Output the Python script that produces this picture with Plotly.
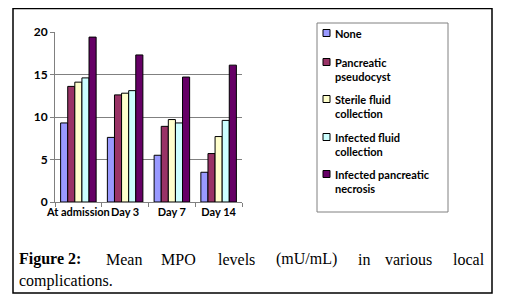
import plotly.graph_objects as go

categories = ["At admission", "Day 3", "Day 7", "Day 14"]
series_names = ["None", "Pancreatic<br>pseudocyst", "Sterile fluid<br>collection",
                "Infected fluid<br>collection", "Infected pancreatic<br>necrosis"]
series_colors = ["#9999FF", "#993366", "#FFFFCC", "#CCFFFF", "#660066"]
none_vals = [9.3, 7.6, 5.5, 3.5]
pseudocyst_vals = [13.6, 12.6, 8.9, 5.7]
sterile_vals = [14.1, 12.8, 9.7, 7.7]
infected_fluid_vals = [14.6, 13.1, 9.3, 9.6]
necrosis_vals = [19.4, 17.3, 14.7, 16.1]
all_vals = [none_vals, pseudocyst_vals, sterile_vals, infected_fluid_vals, necrosis_vals]
y_ticks = [0, 5, 10, 15, 20]

# page body has an 8px margin; figure sits at (8, 8)
OFF = 8
W, H = 506 - OFF, 307 - OFF
L, R, T, B = 55 - OFF, 242 - OFF, 32 - OFF, 202 - OFF
def px(x):  # x in page pixels
    return (x - OFF - L) / (R - L)
def py(y):  # y in page pixels
    return (B - (y - OFF)) / (B - T)

fig = go.Figure()
for name, col, vals in zip(series_names, series_colors, all_vals):
    fig.add_trace(go.Bar(x=categories, y=vals, name=name.replace("<br>", " "),
                         marker=dict(color=col, line=dict(color="black", width=1)),
                         showlegend=False))

FONT = "Lato"
shapes = []
annotations = []

# outer frame
shapes.append(dict(type="rect", xref="paper", yref="paper",
                   x0=px(13), x1=px(492), y0=py(293), y1=py(8.5),
                   line=dict(color="black", width=1.5), layer="below"))
# legend box
shapes.append(dict(type="rect", xref="paper", yref="paper",
                   x0=px(317), x1=px(448), y0=py(212), y1=py(23),
                   line=dict(color="#808080", width=1)))
leg_y = [33, 62, 99, 137, 174]
for name, col, yy in zip(series_names, series_colors, leg_y):
    shapes.append(dict(type="rect", xref="paper", yref="paper",
                       x0=px(323), x1=px(330), y0=py(yy + 3.5), y1=py(yy - 3.5),
                       fillcolor=col, line=dict(color="black", width=1)))
    annotations.append(dict(text=name, xref="paper", yref="paper",
                            x=px(333), y=py(yy - 8), xanchor="left", yanchor="top",
                            align="left", showarrow=False,
                            font=dict(family=FONT, size=11, color="black", weight="bold")))

# caption (justified words)
cap_font = dict(family="Liberation Serif", size=16, color="black")
line1 = [("<b>Figure 2:</b>", 17, "left"), ("Mean", 123.5, "center"), ("MPO", 178, "center"),
         ("levels", 236.5, "center"), ("(mU/mL)", 306.5, "center"), ("in", 363.5, "center"),
         ("various", 408.5, "center"), ("local", 487, "right")]
for txt, xx, anc in line1:
    annotations.append(dict(text=txt, xref="paper", yref="paper", x=px(xx), y=py(259),
                            xanchor=anc, yanchor="middle", showarrow=False, font=cap_font))
annotations.append(dict(text="complications.", xref="paper", yref="paper", x=px(17), y=py(281),
                        xanchor="left", yanchor="middle", showarrow=False, font=cap_font))

fig.update_layout(
    width=W, height=H,
    margin=dict(l=L, r=W - R, t=T, b=H - B),
    paper_bgcolor="white", plot_bgcolor="white",
    barmode="group", bargap=0.24, bargroupgap=0,
    shapes=shapes, annotations=annotations,
    showlegend=False,
    font=dict(family=FONT, color="black"),
)
fig.update_xaxes(type="category", range=[-0.5, 3.5], tickangle=0,
                 showline=True, linecolor="#808080", linewidth=1,
                 ticks="outside", tickson="boundaries", ticklen=4, tickcolor="#808080",
                 tickfont=dict(family=FONT, size=11, color="black", weight="bold"),
                 showgrid=False, fixedrange=True)
fig.update_yaxes(range=[0, 20], tickvals=y_ticks,
                 showline=True, linecolor="#808080", linewidth=1,
                 ticks="outside", ticklen=4, tickcolor="#808080",
                 showgrid=True, gridcolor="#808080", gridwidth=1,
                 zeroline=False,
                 tickfont=dict(family=FONT, size=12, color="black", weight="bold"),
                 fixedrange=True)

fig.write_html("out.html")
